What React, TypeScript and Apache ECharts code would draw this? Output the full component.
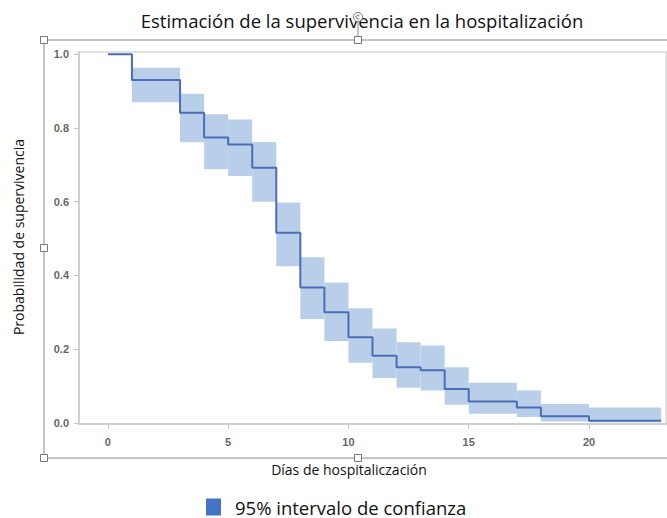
import React, { useEffect, useRef } from "react";
import * as echarts from "echarts";

// Kaplan-Meier estimate (step changes at these times)
const times = [0, 1, 3, 4, 5, 6, 7, 8, 9, 10, 11, 12, 13, 14, 15, 17, 18, 20, 23];
const survival = [1.0, 0.93, 0.841, 0.774, 0.755, 0.692, 0.516, 0.367, 0.3, 0.232, 0.182, 0.151, 0.143, 0.092, 0.058, 0.042, 0.018, 0.006, 0.006];
// 95% confidence band per interval [times[i], times[i+1]]
const lowerCI = [null, 0.87, 0.761, 0.688, 0.67, 0.6, 0.425, 0.282, 0.222, 0.163, 0.122, 0.095, 0.088, 0.049, 0.025, 0.016, 0.004, 0.002];
const upperCI = [null, 0.963, 0.893, 0.837, 0.823, 0.762, 0.598, 0.449, 0.381, 0.311, 0.256, 0.219, 0.21, 0.151, 0.109, 0.088, 0.051, 0.042];
const xTicks = [0, 5, 10, 15, 20];
const yTicks = [0, 0.2, 0.4, 0.6, 0.8, 1.0];

const titleText = "Estimación de la supervivencia en la hospitalización";
const xName = "Días de hospitaliczación";
const yName = "Probabilidad de supervivencia";
const bandName = "95% intervalo de confianza";

export default function App() {
  const ref = useRef<HTMLDivElement>(null);
  useEffect(() => {
    if (!ref.current) return;
    const chart = echarts.init(ref.current, null, { renderer: "svg" });
    const lineData = times.map((t, i) => [t, survival[i]]);
    const bandData: number[][] = [];
    for (let i = 0; i < times.length - 1; i++) {
      if (lowerCI[i] != null && upperCI[i] != null) {
        bandData.push([times[i], times[i + 1], lowerCI[i] as number, upperCI[i] as number]);
      }
    }
    const font = "'Open Sans', 'Noto Sans', sans-serif";
    const tickFont = "'Liberation Sans', Arial, sans-serif";
    const handle = (cx: number, cy: number) => ({
      type: "rect",
      shape: { x: cx - 3.5, y: cy - 3.5, width: 7, height: 7 },
      style: { fill: "#fff", stroke: "#777", lineWidth: 1 },
      z: 100,
    });
    chart.setOption({
      animation: false,
      textStyle: { fontFamily: font },
      grid: { left: 79, right: 1, top: 52, bottom: 94, show: true, borderColor: "#e2e2e2", borderWidth: 2, backgroundColor: "#fff" },
      xAxis: {
        type: "value",
        min: -1.2,
        max: 23.2,
        splitLine: { show: false },
        axisLine: { show: true, onZero: false, lineStyle: { color: "#cfcfcf", width: 2 } },
        axisTick: { show: true, length: 5, customValues: xTicks, lineStyle: { color: "#c4c4c4" } },
        axisLabel: { customValues: xTicks, margin: 12, color: "#666", fontSize: 11, fontWeight: "bold", fontFamily: tickFont },
      },
      yAxis: {
        type: "value",
        min: -0.003,
        max: 1.006,
        splitLine: { show: false },
        axisLine: { show: true, onZero: false, lineStyle: { color: "#cfcfcf", width: 2 } },
        axisTick: { show: true, length: 5, customValues: yTicks, lineStyle: { color: "#c4c4c4" } },
        axisLabel: {
          customValues: yTicks,
          margin: 10,
          color: "#666",
          fontSize: 11,
          fontWeight: "bold",
          fontFamily: tickFont,
          formatter: (v: number) => v.toFixed(1),
        },
      },
      legend: {
        left: 206,
        top: 497.5,
        padding: 0,
        icon: "rect",
        itemWidth: 15,
        itemHeight: 17,
        data: [{ name: bandName, itemStyle: { color: "#4472c4" } }],
        textStyle: { fontSize: 18.5, lineHeight: 17, color: "#111", fontFamily: font, padding: [0, 0, 0, 9] },
      },
      series: [
        {
          name: bandName,
          type: "custom",
          data: bandData,
          encode: { x: [0, 1], y: [2, 3] },
          renderItem: (params: any, api: any) => {
            const p1 = api.coord([api.value(0), api.value(3)]);
            const p2 = api.coord([api.value(1), api.value(2)]);
            return {
              type: "rect",
              shape: { x: p1[0], y: p1[1], width: p2[0] - p1[0], height: p2[1] - p1[1] },
              style: { fill: "#b9cfe9" },
            };
          },
          z: 1,
        },
        {
          name: "Supervivencia",
          type: "line",
          step: "end",
          data: lineData,
          showSymbol: false,
          lineStyle: { color: "#4a6db8", width: 2 },
          z: 3,
        },
      ],
      graphic: [
        {
          type: "text",
          x: 362,
          y: 20,
          style: { text: titleText, fill: "#111", font: `18.5px ${font}`, textAlign: "center", textVerticalAlign: "middle" },
        },
        {
          type: "text",
          x: 349,
          y: 469,
          style: { text: xName, font: `14px ${font}`, fill: "#111", textAlign: "center", textVerticalAlign: "middle" },
        },
        {
          type: "text",
          x: 18,
          y: 237,
          rotation: Math.PI / 2,
          style: { text: yName, font: `14px ${font}`, fill: "#111", textAlign: "center", textVerticalAlign: "middle" },
        },
        // selection frame decoration
        { type: "line", shape: { x1: 44, y1: 40, x2: 667, y2: 40 }, style: { stroke: "#888", lineWidth: 1 }, z: 99 },
        { type: "line", shape: { x1: 44, y1: 40, x2: 44, y2: 458 }, style: { stroke: "#888", lineWidth: 1 }, z: 99 },
        { type: "line", shape: { x1: 44, y1: 458, x2: 667, y2: 458 }, style: { stroke: "#888", lineWidth: 1 }, z: 99 },
        { type: "line", shape: { x1: 358, y1: 22, x2: 358, y2: 37 }, style: { stroke: "#888", lineWidth: 1 }, z: 99 },
        { type: "circle", shape: { cx: 358, cy: 17, r: 4.5 }, style: { fill: "#fff", stroke: "#777", lineWidth: 1 }, z: 100 },
        { type: "arc", shape: { cx: 358, cy: 17, r: 2, startAngle: 0.6, endAngle: 5.7 }, style: { stroke: "#777", lineWidth: 1, fill: "none" }, z: 101 },
        handle(44, 40),
        handle(358, 40),
        handle(44, 248),
        handle(44, 458),
        handle(358, 458),
      ],
    });
    return () => chart.dispose();
  }, []);
  return <div ref={ref} style={{ width: 667, height: 518, position: "absolute", left: 0, top: 0 }} />;
}
